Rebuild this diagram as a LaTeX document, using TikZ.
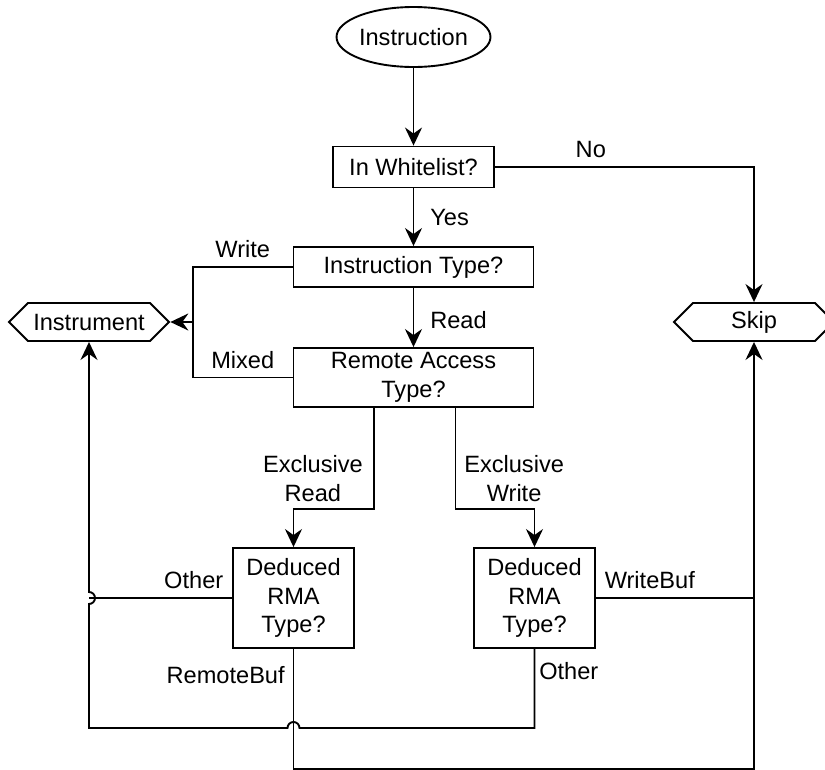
\documentclass[tikz,border=0pt]{standalone}
\usepackage{fontspec}
\setmainfont{Liberation Sans}
\usetikzlibrary{arrows.meta,shapes.geometric,shapes.symbols,positioning,calc}

\begin{document}
\begin{tikzpicture}[x=1pt,y=1pt,on grid,line width=1.9pt,node font=\fontsize{23.6}{28.5}\selectfont,>={Stealth[length=18pt,width=17pt,inset=6pt]}]
	\tikzstyle{question}=[draw,rectangle,align=center,inner sep=0pt]
	\tikzstyle{terminal}=[draw,shape=signal,signal to=west and east,minimum width=160pt,minimum height=38pt,inner sep=0pt]
	\useasboundingbox (0,0) rectangle (825,-769);
	
	\node[draw,ellipse,minimum width=141pt,minimum height=60pt,inner sep=0pt] (INS) at (413.5,-37) {Instruction};
	\node[question,minimum width=161pt,minimum height=41pt] (WL) [below=130pt of INS] {In Whitelist?};
	\node[question,minimum width=240pt,minimum height=40pt] (IT) [below=100pt of WL] {Instruction Type?};
	\node[question,minimum width=240pt,minimum height=59pt] (RAT) [below=110.5pt of IT] {Remote Access\\Type?};
	\node[terminal] (INSTR) at (89,-322) {Instrument};
	\node[terminal] (SKIP) at (754,-322) {Skip};
	\node[question,minimum width=121pt,minimum height=100pt] (DL) at (293.5,-598) {Deduced\\RMA\\Type?};
	\node[question,minimum width=121pt,minimum height=100pt] (DR) at (534.5,-598) {Deduced\\RMA\\Type?};
	
	\coordinate (JL) at (193,-322);
	\coordinate (RL) at ($(RAT.south west)+(81,0)$);
	\coordinate (RR) at ($(RAT.south east)-(79,0)$);
	\coordinate (BL) at (89,-728);
	
	\draw[->] (INS) -- (WL);
	\draw[->] (WL) -| node[pos=0.185,above] {No} (SKIP);
	\draw[->] (WL) -- node[right=8pt] {Yes} (IT);
	\draw[->] (IT) -- node[pos=0.55,right=8pt] {Read} (RAT);
	\draw (IT.west) -- node[above] {Write} (IT.west -| JL) -- (JL);
	\draw (RAT.west) -- node[above] {Mixed} (RAT.west -| JL) -- (JL);
	\draw[->] (JL) -- (INSTR.east);
	\draw[->] (RL) -- node[pos=0.7,left=2pt,align=center] {Exclusive\\Read} ++(0,-101) -| (DL.north);
	\draw[->] (RR) -- node[pos=0.7,right=0pt,align=center] {Exclusive\\Write} ++(0,-101) -| (DR.north);
	\draw (DL.west) -- node[pos=0,above left] {Other} (DL.west -| BL);
	\draw[->] (DL.south) -- node[pos=0.22,left=0pt] {RemoteBuf} ++(0,-120) -| (SKIP.south);
	\draw (DR.east) -- node[pos=0,above right] {WriteBuf} (DR.east -| SKIP.south);
	\draw[->] (DR.south) -- node[pos=0.275,right=-4pt] {Other} (DR.south |- BL)
		-- ($(DL.south |- BL)+(6,0)$) arc[start angle=0,end angle=180,radius=6]
		-- (BL) -- ($(BL |- DL.west)+(0,-6)$) arc[start angle=-90,end angle=90,radius=6]
		-- (INSTR.south);
\end{tikzpicture}
\end{document}
